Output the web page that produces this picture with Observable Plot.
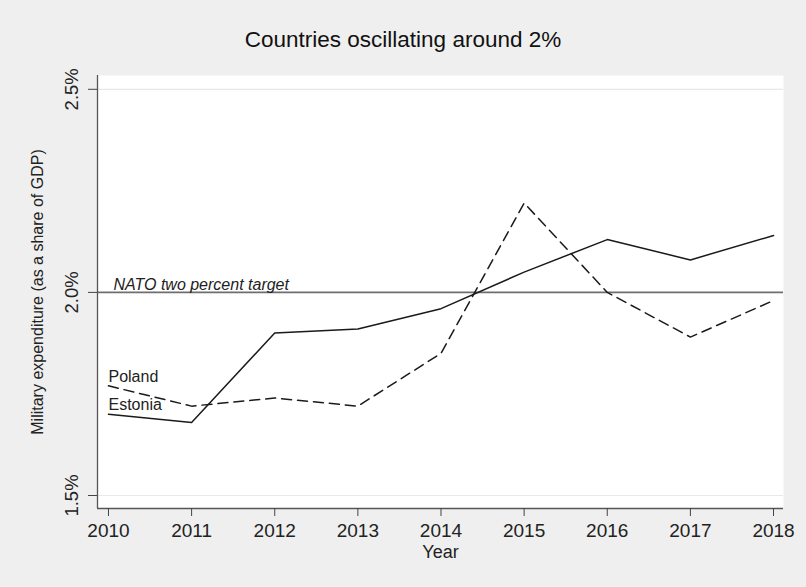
<!DOCTYPE html>
<html><head><meta charset="utf-8">
<script src="https://cdn.jsdelivr.net/npm/d3@7"></script>
<script src="https://cdn.jsdelivr.net/npm/@observablehq/plot@0.6"></script>
<style>
html,body{margin:0;padding:0;background:#efefef;}
#title{height:60px;box-sizing:border-box;padding-top:27px;line-height:24px;font:22.5px "Liberation Sans",Arial,sans-serif;text-align:center;color:#111;width:806px;}
svg{display:block;}
</style></head>
<body>
<div id="title">Countries oscillating around 2%</div>
<div id="chart"></div>
<script>
const years = [2010,2011,2012,2013,2014,2015,2016,2017,2018];
const estonia = [1.70,1.68,1.90,1.91,1.96,2.05,2.13,2.08,2.14];
const poland  = [1.77,1.72,1.74,1.72,1.85,2.22,2.00,1.89,1.98];
const yTicks = [1.5,2.0,2.5];
const target = 2.0;
const targetLabel = "NATO two percent target";

const rows = [];
years.forEach((y,i)=>{rows.push({year:y,value:estonia[i],country:"Estonia"});rows.push({year:y,value:poland[i],country:"Poland"});});
const est = rows.filter(d=>d.country==="Estonia");
const pol = rows.filter(d=>d.country==="Poland");

const xDom = [2009.868, 2018.12];
const yDom = [1.468, 2.534];
const font = '"Liberation Sans",Arial,sans-serif';

const plot = Plot.plot({
  width: 806, height: 527,
  marginLeft: 97, marginRight: 23, marginTop: 15, marginBottom: 79,
  style: {background:"#efefef", fontFamily: font},
  x: {domain: xDom, axis: null},
  y: {domain: yDom, axis: null},
  marks: [
    Plot.frame({fill:"white", stroke:null}),
    Plot.ruleY([1.5,2.5], {stroke:"#e8e8e8", strokeWidth:1.2}),
    Plot.ruleY([target], {stroke:"#6e6e6e", strokeWidth:1.6}),
    Plot.text([targetLabel], {x: 2010.06, y: target, text: d=>d, textAnchor:"start", dy:-8, fontSize:16, fontStyle:"italic", fill:"#222"}),
    Plot.line(pol, {x:"year", y:"value", stroke:"#1a1a1a", strokeWidth:1.5, strokeDasharray:"10,6"}),
    Plot.line(est, {x:"year", y:"value", stroke:"#1a1a1a", strokeWidth:1.5}),
    Plot.text([pol[0]], {x:"year", y:"value", text:"country", textAnchor:"start", dy:-9, fontSize:16, fill:"#222"}),
    Plot.text([est[0]], {x:"year", y:"value", text:"country", textAnchor:"start", dy:-9, fontSize:16, fill:"#222"}),
    Plot.ruleX([xDom[0]], {stroke:"#555", strokeWidth:1.3}),
    Plot.ruleY([yDom[0]], {stroke:"#555", strokeWidth:1.3}),
    Plot.axisY({ticks: yTicks, tickSize: 9, tickFormat: ()=>"", stroke:"#444", label:null}),
    Plot.axisX({ticks: years, tickSize: 8, tickFormat: ()=>"", stroke:"#444", label:null}),
    Plot.text(yTicks, {y:d=>d, frameAnchor:"left", dx:-25, rotate:-90, text:d=>d.toFixed(1)+"%", fontSize:18.5, fill:"#222", textAnchor:"middle"}),
    Plot.text(years, {x:d=>d, frameAnchor:"bottom", dy:22.5, text:d=>String(d), fontSize:19, fill:"#222", lineAnchor:"middle"}),
    Plot.text(["Year"], {frameAnchor:"bottom", dy:44, text:d=>d, fontSize:18, fill:"#222", lineAnchor:"middle"}),
    Plot.text(["Military expenditure (as a share of GDP)"], {frameAnchor:"left", dx:-60, rotate:-90, text:d=>d, fontSize:16, fill:"#222", textAnchor:"middle"})
  ]
});
document.getElementById("chart").appendChild(plot);
</script>
</body></html>
